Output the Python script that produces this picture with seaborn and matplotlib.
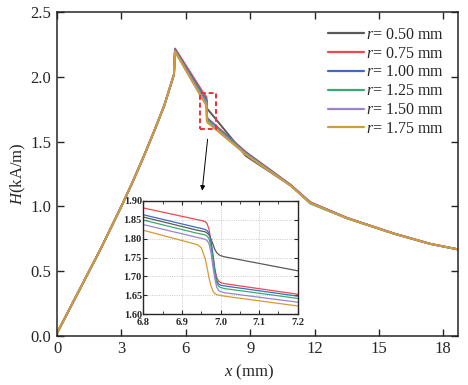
import numpy as np
import pandas as pd
import matplotlib
matplotlib.use("Agg")
import matplotlib.pyplot as plt
import seaborn as sns

# ---- data ----
radii = ["0.50", "0.75", "1.00", "1.25", "1.50", "1.75"]
colors = ["#5a5a5a", "#f0484f", "#3a6cc0", "#3aab70", "#9a84cc", "#d49a36"]

# rising part (shared by every radius)
x_rise = [0.0, 0.5, 1.0, 1.5, 2.0, 2.5, 3.0, 3.5, 4.0, 4.5, 5.0, 5.45]
h_rise = [0.02, 0.18, 0.34, 0.50, 0.66, 0.83, 1.00, 1.18, 1.37, 1.57, 1.78, 2.02]

# falling part
x_fall = [5.50, 6.80, 6.94, 6.95, 6.96, 6.965, 6.97, 6.975, 6.98, 6.985,
          6.99, 6.995, 7.00, 7.01, 7.20, 8.80, 10.90, 11.80, 13.50, 15.70,
          17.40, 18.70]
h_050 = [2.210, 1.857, 1.822, 1.820, 1.818, 1.815, 1.810, 1.800, 1.786, 1.772,
         1.763, 1.758, 1.755, 1.752, 1.715, 1.390, 1.160, 1.030, 0.910, 0.790,
         0.710, 0.667]
h_075 = [2.220, 1.881, 1.850, 1.848, 1.845, 1.840, 1.825, 1.795, 1.755, 1.720,
         1.698, 1.688, 1.684, 1.681, 1.653, 1.420, 1.165, 1.032, 0.912, 0.790,
         0.710, 0.667]
h_100 = [2.212, 1.863, 1.829, 1.827, 1.824, 1.821, 1.815, 1.795, 1.760, 1.720,
         1.690, 1.680, 1.677, 1.675, 1.648, 1.415, 1.163, 1.030, 0.911, 0.790,
         0.710, 0.667]
h_125 = [2.205, 1.849, 1.814, 1.812, 1.810, 1.807, 1.800, 1.780, 1.745, 1.710,
         1.683, 1.674, 1.671, 1.668, 1.642, 1.410, 1.160, 1.022, 0.908, 0.788,
         0.709, 0.667]
h_150 = [2.200, 1.837, 1.803, 1.801, 1.798, 1.795, 1.787, 1.765, 1.728, 1.695,
         1.672, 1.663, 1.660, 1.657, 1.632, 1.405, 1.160, 1.028, 0.910, 0.790,
         0.710, 0.667]
h_175 = [2.195, 1.822, 1.784, 1.776, 1.748, 1.725, 1.697, 1.676, 1.662, 1.655,
         1.652, 1.651, 1.650, 1.648, 1.622, 1.400, 1.158, 1.026, 0.909, 0.789,
         0.710, 0.667]
h_fall = [h_050, h_075, h_100, h_125, h_150, h_175]

# zoom window on the main plot and inset limits
box_x = (6.65, 7.40)
box_y = (1.60, 1.88)
inset_x = (6.8, 7.2)
inset_y = (1.60, 1.90)

# ---- build long table ----
rows = []
for r, hf in zip(radii, h_fall):
    lab = rf"$r$= {r} mm"
    for xv, hv in zip(x_rise + x_fall, h_rise + hf):
        rows.append((lab, xv, hv))
df = pd.DataFrame(rows, columns=["series", "x", "H"])
labels = [rf"$r$= {r} mm" for r in radii]
palette = dict(zip(labels, colors))

sns.set_style("ticks")
plt.rcParams["font.family"] = ["Liberation Serif", "DejaVu Serif"]
plt.rcParams["mathtext.fontset"] = "custom"
plt.rcParams["mathtext.rm"] = "Liberation Serif"
plt.rcParams["mathtext.it"] = "Liberation Serif:italic"

fig = plt.figure(figsize=(4.68, 3.85), dpi=100)
ax = fig.add_axes([0.1218, 0.128, 0.8575, 0.840])

sns.lineplot(data=df, x="x", y="H", hue="series", hue_order=labels,
             palette=palette, estimator=None, sort=False, linewidth=1.4, ax=ax)

ax.set_xlim(0, 18.7)
ax.set_ylim(0, 2.5)
ax.set_xticks(np.arange(0, 19, 3))
ax.set_yticks(np.arange(0, 2.51, 0.5))
ax.yaxis.set_major_formatter(matplotlib.ticker.FormatStrFormatter("%.1f"))
ax.tick_params(direction="in", top=True, right=True, length=5, width=1,
               labelsize=12, pad=4)
for s in ax.spines.values():
    s.set_linewidth(1.1)
ax.set_xlabel(r"$x$ (mm)", fontsize=12, labelpad=2)
ax.xaxis.set_label_coords(0.478, -0.085)
ax.set_ylabel(r"$H$(kA/m)", fontsize=12, labelpad=2)

leg = ax.legend(loc="upper right", frameon=False, fontsize=11.5,
                handlelength=2.3, handletextpad=0.1, labelspacing=0.18,
                borderaxespad=0.5)
for line in leg.get_lines():
    line.set_linewidth(1.6)

# dashed zoom box and arrow
ax.add_patch(plt.Rectangle((box_x[0], box_y[0]), box_x[1] - box_x[0],
                           box_y[1] - box_y[0], fill=False, ec="#e8343a",
                           ls=(0, (2.5, 1.5)), lw=1.4, zorder=5))
ax.annotate("", xy=(6.75, 1.10), xytext=(7.03, 1.54),
            arrowprops=dict(arrowstyle="-|>", color="black", lw=0.7,
                            mutation_scale=7))

# ---- inset ----
axin = fig.add_axes([0.3062, 0.1836, 0.330, 0.295])
sns.lineplot(data=df, x="x", y="H", hue="series", hue_order=labels,
             palette=palette, estimator=None, sort=False, linewidth=0.9,
             legend=False, ax=axin)
axin.set_xlim(*inset_x)
axin.set_ylim(*inset_y)
axin.set_xticks(np.arange(6.8, 7.21, 0.1))
axin.set_xticks(np.arange(6.85, 7.2, 0.1), minor=True)
axin.set_yticks(np.arange(1.60, 1.901, 0.05))
axin.xaxis.set_major_formatter(matplotlib.ticker.FormatStrFormatter("%.1f"))
axin.yaxis.set_major_formatter(matplotlib.ticker.FormatStrFormatter("%.2f"))
axin.tick_params(which="both", direction="in", top=True, right=True,
                 labelsize=7.5)
axin.tick_params(axis="x", pad=2.5)
axin.tick_params(axis="y", pad=1)
axin.tick_params(which="major", length=3)
axin.tick_params(which="minor", length=2)
for t in axin.get_xticklabels() + axin.get_yticklabels():
    t.set_fontweight("bold")
axin.grid(True, ls=":", lw=0.6, color="#bbbbbb")
axin.set_xlabel("")
axin.set_ylabel("")
for s in axin.spines.values():
    s.set_linewidth(1.0)

fig.savefig("out.png", dpi=100, facecolor="white")
